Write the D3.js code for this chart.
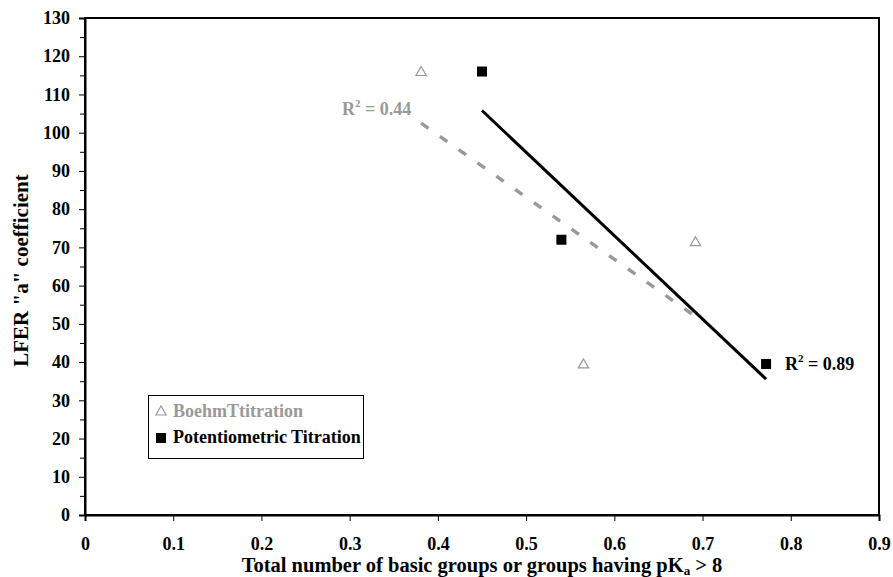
<!DOCTYPE html>
<html>
<head>
<meta charset="utf-8">
<script src="https://cdn.jsdelivr.net/npm/d3@7"></script>
<style>
  html, body { margin: 0; padding: 0; background: #fff; }
  svg { display: block; }
  text { font-family: "Liberation Serif", "Times New Roman", serif; font-weight: bold; }
</style>
</head>
<body>
<svg id="chart" width="893" height="577"></svg>
<script>
// Series data
const boehmX = [0.381, 0.565, 0.692];
const boehmY = [116, 39.5, 71.5];
const potX = [0.45, 0.54, 0.772];
const potY = [116, 72, 39.5];

// Axis ticks
const xTicks = [0, 0.1, 0.2, 0.3, 0.4, 0.5, 0.6, 0.7, 0.8, 0.9];
const yTicks = [0, 10, 20, 30, 40, 50, 60, 70, 80, 90, 100, 110, 120, 130];
const yMinor = [5, 15, 25, 35, 45, 55, 65, 75, 85, 95, 105, 115, 125];

const legendLabels = ["BoehmTtitration", "Potentiometric Titration"];
const xTitle = "Total number of basic groups or groups having pK";
const yTitle = "LFER \"a\" coefficient";

const grey = "#999999";

const svg = d3.select("#chart");
const x = d3.scaleLinear().domain([0, 0.9]).range([85, 879]);
const y = d3.scaleLinear().domain([0, 130]).range([515, 18]);

// Least-squares fit with R²
function fit(xs, ys) {
  const mx = d3.mean(xs), my = d3.mean(ys);
  let sxx = 0, sxy = 0, syy = 0;
  xs.forEach((xi, i) => {
    sxx += (xi - mx) ** 2;
    sxy += (xi - mx) * (ys[i] - my);
    syy += (ys[i] - my) ** 2;
  });
  const slope = sxy / sxx;
  const b = my - slope * mx;
  return { slope, b, r2: (sxy * sxy) / (sxx * syy), x0: d3.min(xs), x1: d3.max(xs) };
}

// Plot frame
svg.append("rect")
  .attr("x", x(0)).attr("y", y(130))
  .attr("width", x(0.9) - x(0)).attr("height", y(0) - y(130))
  .attr("fill", "none").attr("stroke", "#000").attr("stroke-width", 2);

// Y axis
svg.append("g")
  .attr("transform", `translate(${x(0)},0)`)
  .call(d3.axisLeft(y).tickValues(yTicks).tickSize(6).tickPadding(9).tickFormat(d3.format("d")));
svg.append("g")
  .attr("transform", `translate(${x(0)},0)`)
  .call(d3.axisLeft(y).tickValues(yMinor).tickSize(5).tickFormat(""))
  .call(g => g.select(".domain").remove());

// X axis
svg.append("g")
  .attr("class", "xaxis")
  .attr("transform", `translate(0,${y(0)})`)
  .call(d3.axisBottom(x).tickValues(xTicks).tickSize(6)
    .tickFormat(d => d === 0 ? "0" : d3.format(".1f")(d)));
svg.selectAll(".xaxis .tick text").attr("y", 35).attr("dy", 0);

svg.selectAll(".tick line").attr("stroke", "#000").attr("stroke-width", 1);
svg.selectAll(".domain").attr("stroke", "#000").attr("stroke-width", 2);
svg.selectAll(".tick text")
  .attr("fill", "#000")
  .style("font-size", "18px")
  .style("font-family", "'Liberation Serif', serif")
  .style("font-weight", "bold");

// Trend lines
const fb = fit(boehmX, boehmY);
const fp = fit(potX, potY);

svg.append("line")
  .attr("x1", x(fb.x0)).attr("y1", y(fb.b + fb.slope * fb.x0))
  .attr("x2", x(fb.x1)).attr("y2", y(fb.b + fb.slope * fb.x1))
  .attr("stroke", grey).attr("stroke-width", 3.5)
  .attr("stroke-dasharray", "9,14");

svg.append("line")
  .attr("x1", x(fp.x0)).attr("y1", y(fp.b + fp.slope * fp.x0))
  .attr("x2", x(fp.x1)).attr("y2", y(fp.b + fp.slope * fp.x1))
  .attr("stroke", "#000").attr("stroke-width", 3);

// Markers
const tri = d3.symbol().type(d3.symbolTriangle).size(46);
svg.append("g").selectAll("path")
  .data(boehmX.map((v, i) => [v, boehmY[i]]))
  .join("path")
  .attr("d", tri)
  .attr("transform", d => `translate(${x(d[0])},${y(d[1]) + 1})`)
  .attr("fill", "#fff").attr("stroke", grey).attr("stroke-width", 1.2);

svg.append("g").selectAll("rect")
  .data(potX.map((v, i) => [v, potY[i]]))
  .join("rect")
  .attr("x", d => x(d[0]) - 5).attr("y", d => y(d[1]) - 5)
  .attr("width", 10).attr("height", 10)
  .attr("fill", "#000");

// R² annotations
function r2Label(t, px, py, color, r2) {
  t.attr("x", px).attr("y", py).attr("fill", color).style("font-size", "18px");
  t.append("tspan").text("R");
  t.append("tspan").text("2").attr("dy", -8).style("font-size", "11px");
  t.append("tspan").text(" = " + r2.toFixed(2)).attr("dy", 8);
}
r2Label(svg.append("text"), 342, 115, grey, fb.r2);
r2Label(svg.append("text"), 785, 370, "#000", fp.r2);

// Legend
const lg = svg.append("g");
lg.append("rect")
  .attr("x", 148.5).attr("y", 395.5).attr("width", 215).attr("height", 63)
  .attr("fill", "#fff").attr("stroke", "#000").attr("stroke-width", 1);
lg.append("path").attr("d", tri)
  .attr("transform", "translate(161,412)")
  .attr("fill", "#fff").attr("stroke", grey).attr("stroke-width", 1.2);
lg.append("text").attr("x", 173).attr("y", 417).attr("fill", grey)
  .style("font-size", "18px").text(legendLabels[0]);
lg.append("rect").attr("x", 156).attr("y", 433).attr("width", 10).attr("height", 10).attr("fill", "#000");
lg.append("text").attr("x", 173).attr("y", 443).attr("fill", "#000")
  .style("font-size", "18px").text(legendLabels[1]);

// Axis titles
const xt = svg.append("text")
  .attr("x", (x(0) + x(0.9)) / 2).attr("y", 572)
  .attr("text-anchor", "middle").attr("fill", "#000").style("font-size", "20.5px");
xt.append("tspan").text(xTitle);
xt.append("tspan").text("a").attr("dy", 3).style("font-size", "13px");
xt.append("tspan").text(" > 8").attr("dy", -3);

svg.append("text")
  .attr("transform", `translate(28,${(y(0) + y(130)) / 2 + 4}) rotate(-90)`)
  .attr("text-anchor", "middle").attr("fill", "#000").style("font-size", "21px")
  .text(yTitle);
</script>
</body>
</html>
